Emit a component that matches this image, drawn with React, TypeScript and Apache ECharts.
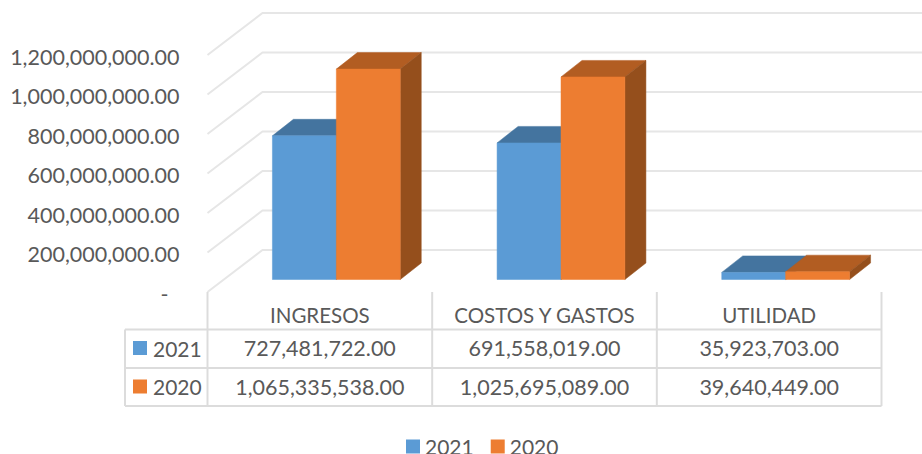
import React, { useEffect, useRef } from "react";
import * as echarts from "echarts";

const categories = ["INGRESOS", "COSTOS Y GASTOS", "UTILIDAD"];
const values2021 = [727481722, 691558019, 35923703];
const values2020 = [1065335538, 1025695089, 39640449];
const yTicks = [0, 200000000, 400000000, 600000000, 800000000, 1000000000, 1200000000];

const FONT = "Lato, Carlito, sans-serif";
const TEXT = "#595959";
const LINE = "#dcdcdc";
const NUM_SIZE = 21.5;
const CAT_SIZE = 20.5;
const YEAR_SIZE = 21;
const G = { left: 207.5, top: 55, width: 674, height: 237 };
const WALL = { dx: 55, dy: -42 };
const FRONT = { dx: 16.5, dy: -12.5 };
const DEPTH = { dx: 21, dy: -16.5 };
const TABLE = { left: 125, head: 329.5, r1: 368, r2: 406 };

const fmt = (v: number) =>
  v.toLocaleString("en-US", { minimumFractionDigits: 2, maximumFractionDigits: 2 });

function bar3d(side: 0 | 1, front: string, top: string, right: string) {
  return (params: any, api: any) => {
    const p = api.coord([api.value(0), api.value(1)]);
    const b = api.coord([api.value(0), 0]);
    const w = api.size([1, 0])[0] * 0.2845;
    const x0 = p[0] + FRONT.dx + (side === 0 ? -w : 0);
    const x1 = x0 + w;
    const yT = p[1] + FRONT.dy;
    const yB = b[1] + FRONT.dy;
    const poly = (points: number[][], fill: string) => ({
      type: "polygon",
      shape: { points },
      style: { fill, stroke: fill, lineWidth: 0.5 },
    });
    return {
      type: "group",
      children: [
        poly([[x0, yT], [x1, yT], [x1 + DEPTH.dx, yT + DEPTH.dy], [x0 + DEPTH.dx, yT + DEPTH.dy]], top),
        poly([[x1, yT], [x1 + DEPTH.dx, yT + DEPTH.dy], [x1 + DEPTH.dx, yB + DEPTH.dy], [x1, yB]], right),
        poly([[x0, yT], [x1, yT], [x1, yB], [x0, yB]], front),
      ],
    };
  };
}

function wall(params: any, api: any) {
  const p = api.coord([0, api.value(0)]);
  const x = G.left;
  return {
    type: "polyline",
    shape: {
      points: [
        [x, p[1]],
        [x + WALL.dx, p[1] + WALL.dy],
        [922, p[1] + WALL.dy],
      ],
    },
    style: { stroke: "#e6e6e6", lineWidth: 2, fill: "none" },
  };
}

function tableGraphics() {
  const xs = categories.map((_, i) => G.left + (G.width / categories.length) * i);
  const right = G.left + G.width;
  const band = G.width / categories.length;
  const els: any[] = [];
  const seg = (x1: number, y1: number, x2: number, y2: number) =>
    els.push({
      type: "line",
      shape: { x1, y1, x2, y2 },
      style: { stroke: LINE, lineWidth: 2 },
      silent: true,
    });
  [...xs, right].forEach((x) => seg(x, G.top + G.height, x, TABLE.r2));
  seg(TABLE.left, TABLE.head, TABLE.left, TABLE.r2);
  [TABLE.head, TABLE.r1, TABLE.r2].forEach((y) => seg(TABLE.left, y, right, y));
  const txt = (text: string, x: number, y: number, align: string, size: number) =>
    els.push({
      type: "text",
      x,
      y,
      silent: true,
      style: { text, fill: TEXT, font: `${size}px ${FONT}`, align, verticalAlign: "middle" },
    });
  const rows = [
    { name: "2021", values: values2021, color: "#5b9bd5", y: 348 },
    { name: "2020", values: values2020, color: "#ed7d31", y: 386.5 },
  ];
  rows.forEach((r) => {
    els.push({
      type: "rect",
      shape: { x: 133, y: r.y - 7, width: 14, height: 14 },
      style: { fill: r.color },
      silent: true,
    });
    txt(r.name, 153, r.y, "left", YEAR_SIZE);
    r.values.forEach((v, i) => txt(fmt(v), xs[i] + band / 2, r.y, "center", NUM_SIZE));
  });
  return els;
}

export default function App() {
  const ref = useRef<HTMLDivElement>(null);
  useEffect(() => {
    const chart = echarts.init(ref.current!, undefined, { renderer: "svg" });
    chart.setOption({
      animation: false,
      backgroundColor: "#ffffff",
      textStyle: { fontFamily: FONT },
      grid: { left: G.left, top: G.top, width: G.width, height: G.height, containLabel: false },
      xAxis: {
        type: "category",
        data: categories,
        axisLine: { show: false },
        axisTick: { show: false },
        splitLine: { show: false },
        axisLabel: { color: TEXT, fontSize: CAT_SIZE, fontFamily: FONT, margin: 12, interval: 0 },
      },
      yAxis: {
        type: "value",
        min: 0,
        max: 1200000000,
        interval: 200000000,
        axisLine: { show: false },
        axisTick: { show: false },
        splitLine: { show: false },
        axisLabel: {
          color: TEXT,
          fontSize: NUM_SIZE,
          fontFamily: FONT,
          margin: 28,
          padding: [3, 0, 0, 0],
          formatter: (v: number) => (v === 0 ? "{z|-}" : fmt(v)),
          rich: { z: { color: TEXT, fontSize: NUM_SIZE, fontFamily: FONT, padding: [0, 11, 0, 0] } },
        },
      },
      legend: {
        data: ["2021", "2020"],
        left: 406,
        top: 436,
        padding: 0,
        icon: "rect",
        itemWidth: 14,
        itemHeight: 14,
        itemGap: 17,
        textStyle: { color: TEXT, fontSize: YEAR_SIZE, fontFamily: FONT, lineHeight: 14 },
      },
      series: [
        {
          name: "walls",
          type: "custom",
          coordinateSystem: "cartesian2d",
          renderItem: wall,
          data: yTicks.map((t) => [t]),
          encode: { y: 0 },
          silent: true,
          clip: false,
          z: 1,
        },
        {
          name: "2021",
          type: "custom",
          coordinateSystem: "cartesian2d",
          renderItem: bar3d(0, "#5b9bd5", "#44749f", "#2f5d87"),
          data: values2021.map((v, i) => [i, v]),
          encode: { x: 0, y: 1 },
          itemStyle: { color: "#5b9bd5" },
          clip: false,
          z: 2,
        },
        {
          name: "2020",
          type: "custom",
          coordinateSystem: "cartesian2d",
          renderItem: bar3d(1, "#ed7d31", "#b25d22", "#954f1c"),
          data: values2020.map((v, i) => [i, v]),
          encode: { x: 0, y: 1 },
          itemStyle: { color: "#ed7d31" },
          clip: false,
          z: 3,
        },
      ],
      graphic: tableGraphics(),
    });
    return () => chart.dispose();
  }, []);
  return <div ref={ref} style={{ position: "absolute", left: 0, top: 0, width: 922, height: 454 }} />;
}
